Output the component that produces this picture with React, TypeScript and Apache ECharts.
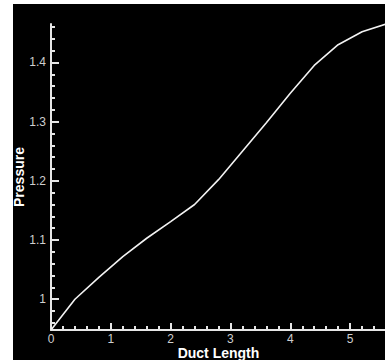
import React, { useEffect, useRef } from "react";
import * as echarts from "echarts";

const ductLength = [0, 0.4, 0.8, 1.2, 1.6, 2.0, 2.4, 2.8, 3.2, 3.6, 4.0, 4.4, 4.8, 5.2, 5.6];
const pressure = [0.948, 1.0, 1.037, 1.072, 1.103, 1.131, 1.16, 1.202, 1.25, 1.298, 1.348, 1.395, 1.43, 1.452, 1.465];

const xMin = 0;
const xMax = 5.6;
const yMin = 0.948;
const yMax = 1.465;

const xMajorTicks = [0, 1, 2, 3, 4, 5];
const xMinorTicks = [0.2, 0.4, 0.6, 0.8, 1.2, 1.4, 1.6, 1.8, 2.2, 2.4, 2.6, 2.8, 3.2, 3.4, 3.6, 3.8, 4.2, 4.4, 4.6, 4.8, 5.2, 5.4];
const yMajorTicks = [1, 1.1, 1.2, 1.3, 1.4];
const yMinorTicks = [0.96, 0.98, 1.02, 1.04, 1.06, 1.08, 1.12, 1.14, 1.16, 1.18, 1.22, 1.24, 1.26, 1.28, 1.32, 1.34, 1.36, 1.38, 1.42, 1.44, 1.46];

const xName = "Duct Length";
const yName = "Pressure";

const AXIS_COLOR = "#e6e6e6";
const LABEL_COLOR = "#cfcfcf";
const FONT = "'Liberation Sans', Arial, sans-serif";

export default function App() {
  const ref = useRef<HTMLDivElement>(null);
  useEffect(() => {
    if (!ref.current) return;
    const chart = echarts.init(ref.current, null, { renderer: "svg" });
    const majorX = {
      type: "value",
      min: xMin,
      max: xMax,
      position: "bottom",
      name: xName,
      nameLocation: "middle",
      nameGap: 16,
      nameMoveOverlap: false,
      nameTextStyle: { color: "#ffffff", fontSize: 14, fontWeight: "bold", fontFamily: FONT },
      axisLine: { show: true, lineStyle: { color: AXIS_COLOR, width: 2 } },
      axisTick: { show: true, inside: true, length: 7, customValues: xMajorTicks, lineStyle: { color: AXIS_COLOR, width: 2 } },
      axisLabel: { show: true, customValues: xMajorTicks, margin: 3, color: LABEL_COLOR, fontSize: 12, fontFamily: FONT },
      splitLine: { show: false },
    };
    const minorX = {
      type: "value",
      min: xMin,
      max: xMax,
      position: "bottom",
      axisLine: { show: false },
      axisTick: { show: true, inside: true, length: 4, customValues: xMinorTicks, lineStyle: { color: AXIS_COLOR, width: 2 } },
      axisLabel: { show: false },
      splitLine: { show: false },
    };
    const majorY = {
      type: "value",
      min: yMin,
      max: yMax,
      position: "left",
      name: yName,
      nameLocation: "middle",
      nameGap: 25,
      nameMoveOverlap: false,
      nameTextStyle: { color: "#ffffff", fontSize: 14, fontWeight: "bold", fontFamily: FONT },
      axisLine: { show: true, lineStyle: { color: AXIS_COLOR, width: 2 } },
      axisTick: { show: true, inside: true, length: 8, customValues: yMajorTicks, lineStyle: { color: AXIS_COLOR, width: 2 } },
      axisLabel: { show: true, customValues: yMajorTicks, margin: 5, color: LABEL_COLOR, fontSize: 12, fontFamily: FONT },
      splitLine: { show: false },
    };
    const minorY = {
      type: "value",
      min: yMin,
      max: yMax,
      position: "left",
      axisLine: { show: false },
      axisTick: { show: true, inside: true, length: 4, customValues: yMinorTicks, lineStyle: { color: AXIS_COLOR, width: 2 } },
      axisLabel: { show: false },
      splitLine: { show: false },
    };
    chart.setOption({
      animation: false,
      backgroundColor: "#000000",
      grid: { left: 38, top: 20, right: 1, bottom: 30, outerBoundsMode: "none", containLabel: false },
      xAxis: [majorX, minorX],
      yAxis: [majorY, minorY],
      series: [
        {
          type: "line",
          xAxisIndex: 0,
          yAxisIndex: 0,
          data: ductLength.map((x, i) => [x, pressure[i]]),
          showSymbol: false,
          symbol: "none",
          lineStyle: { color: "#f2f2f2", width: 1.6 },
          clip: false,
        },
      ],
    });
    return () => chart.dispose();
  }, []);
  return (
    <div style={{ position: "absolute", left: 13, top: 4, width: 372, height: 356, overflow: "hidden", background: "#000" }}>
      <div ref={ref} style={{ width: 374, height: 356 }} />
    </div>
  );
}
